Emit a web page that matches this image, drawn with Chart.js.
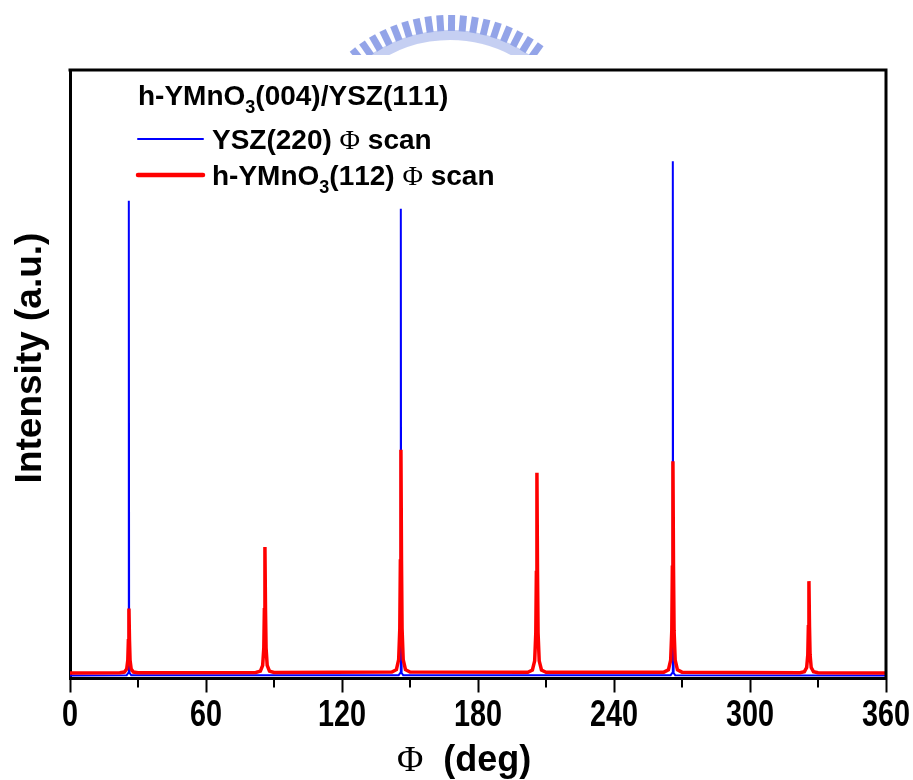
<!DOCTYPE html>
<html>
<head>
<meta charset="utf-8">
<script src="https://cdn.jsdelivr.net/npm/chart.js@4.4.0/dist/chart.umd.min.js"></script>
<style>
    html, body { margin: 0; padding: 0; background: #fff; }
    #wrap { width: 913px; height: 780px; }
</style>
</head>
<body>
<div id="wrap"><canvas id="myChart" width="913" height="780"></canvas></div>
<script>
// YSZ(220) phi scan (blue)
const yszPhi = [0, 25, 25.7, 25.9, 26, 26.1, 26.3, 27,
                145, 145.7, 145.9, 146, 146.1, 146.3, 147,
                265, 265.7, 265.9, 266, 266.1, 266.3, 267, 360];
const yszInt = [0.5, 0.55, 0.9, 3.0, 78.5, 3.0, 0.9, 0.55,
                0.55, 0.9, 3.0, 77.2, 3.0, 0.9, 0.55,
                0.55, 0.9, 3.0, 85.0, 3.0, 0.9, 0.55, 0.5];

// h-YMnO3(112) phi scan (red)
const ymoPhi = [0,
    22, 24, 25, 25.5, 25.75, 26, 26.25, 26.5, 27, 28, 30,
    82, 84, 85, 85.5, 85.75, 86, 86.25, 86.5, 87, 88, 90,
    142, 144, 145, 145.5, 145.75, 146, 146.25, 146.5, 147, 148, 150,
    202, 204, 205, 205.5, 205.75, 206, 206.25, 206.5, 207, 208, 210,
    262, 264, 265, 265.5, 265.75, 266, 266.25, 266.5, 267, 268, 270,
    322, 324, 325, 325.5, 325.75, 326, 326.25, 326.5, 327, 328, 330,
    360];
const ymoInt = [0.9,
    0.94, 1.06, 1.54, 3.0, 6.2, 11.5, 6.2, 3.0, 1.54, 1.06, 0.94,
    0.98, 1.21, 2.14, 5.0, 11.3, 21.6, 11.3, 5.0, 2.14, 1.21, 0.98,
    1.05, 1.45, 3.1, 8.2, 19.3, 37.6, 19.3, 8.2, 3.1, 1.45, 1.05,
    1.03, 1.4, 2.9, 7.5, 17.4, 33.8, 17.4, 7.5, 2.9, 1.4, 1.03,
    1.04, 1.42, 3.0, 7.9, 18.3, 35.7, 18.3, 7.9, 3.0, 1.42, 1.04,
    0.96, 1.13, 1.8, 3.9, 8.5, 16.0, 8.5, 3.9, 1.8, 1.13, 0.96,
    0.9];

const xTicks = [0, 60, 120, 180, 240, 300, 360];
const minorTicks = [30, 90, 150, 210, 270, 330];

const legendTitle = 'h-YMnO₃(004)/YSZ(111)';
const seriesLabels = ['YSZ(220) Φ scan', 'h-YMnO₃(112) Φ scan'];
const xTitle = 'Φ  (deg)';
const yTitle = 'Intensity (a.u.)';

const SANS = '"Liberation Sans", Arial, sans-serif';
const SERIF = '"Liberation Serif", "DejaVu Serif", serif';

// draws text, turning ₃ into a small lowered 3 and Φ into a symbol-like glyph
function drawRich(ctx, text, x, y, size) {
    let cx = x;
    for (const ch of text) {
        let t = ch, dy = 0;
        if (ch === '₃') {
            ctx.font = 'bold ' + Math.round(size * 0.65) + 'px ' + SANS;
            t = '3';
            dy = size * 0.28;
        } else if (ch === 'Φ') {
            ctx.font = size + 'px ' + SERIF;
        } else {
            ctx.font = 'bold ' + size + 'px ' + SANS;
        }
        ctx.fillText(t, cx, y + dy);
        cx += ctx.measureText(t).width;
    }
}

function drawLogo(ctx) {
    ctx.save();
    ctx.beginPath();
    ctx.rect(0, 0, 913, 55);
    ctx.clip();
    const cx = 450, cy = 170, R = 155;
    ctx.fillStyle = 'rgba(128,148,228,0.85)';
    for (let a = -129; a <= -51; a += 4.4) {
        ctx.save();
        ctx.translate(cx, cy);
        ctx.rotate((a + 90) * Math.PI / 180);
        ctx.fillRect(-3.5, -R, 7, 16);
        ctx.restore();
    }
    ctx.beginPath();
    ctx.arc(cx, cy, R - 20, Math.PI * 1.2, Math.PI * 1.8);
    ctx.lineWidth = 10;
    ctx.strokeStyle = 'rgba(150,168,232,0.55)';
    ctx.stroke();
    ctx.restore();
}

const decorations = {
    id: 'decorations',
    beforeDraw(chart) {
        drawLogo(chart.ctx);
    },
    afterDraw(chart) {
        const ctx = chart.ctx;
        const a = chart.chartArea;
        const xs = chart.scales.x;
        ctx.save();
        // top and right frame
        ctx.strokeStyle = '#000';
        ctx.lineWidth = 3;
        ctx.beginPath();
        ctx.moveTo(a.left - 1.5, a.top);
        ctx.lineTo(a.right, a.top);
        ctx.lineTo(a.right, a.bottom + 1.5);
        ctx.stroke();
        // minor ticks
        ctx.lineWidth = 2;
        ctx.beginPath();
        minorTicks.forEach(v => {
            const px = Math.round(xs.getPixelForValue(v));
            ctx.moveTo(px, a.bottom + 1.5);
            ctx.lineTo(px, a.bottom + 9);
        });
        ctx.stroke();

        // x tick labels, condensed bold
        ctx.fillStyle = '#000';
        ctx.textAlign = 'center';
        ctx.textBaseline = 'alphabetic';
        ctx.font = 'bold 36px ' + SANS;
        xTicks.forEach(v => {
            ctx.save();
            ctx.translate(xs.getPixelForValue(v), 726);
            ctx.scale(0.8, 1);
            ctx.fillText(String(v), 0, 0);
            ctx.restore();
        });

        // legend
        ctx.textAlign = 'left';
        drawRich(ctx, legendTitle, 138, 105, 28);
        const rows = [149, 185];
        const lineY = [139, 175];
        chart.data.datasets.forEach((ds, i) => {
            ctx.strokeStyle = ds.borderColor;
            ctx.lineWidth = i === 0 ? 2 : 4.5;
            ctx.lineCap = 'round';
            ctx.beginPath();
            ctx.moveTo(138, lineY[i]);
            ctx.lineTo(203, lineY[i]);
            ctx.stroke();
            ctx.fillStyle = '#000';
            drawRich(ctx, seriesLabels[i], 212, rows[i], 28);
        });

        // axis titles
        drawRich(ctx, xTitle, 397, 771, 36);
        ctx.save();
        ctx.translate(41, 358);
        ctx.rotate(-Math.PI / 2);
        ctx.textAlign = 'center';
        ctx.font = 'bold 37px ' + SANS;
        ctx.fillText(yTitle, 0, 0);
        ctx.restore();
        ctx.restore();
    }
};

const ctx = document.getElementById('myChart').getContext('2d');
const myChart = new Chart(ctx, {
    type: 'line',
    data: {
        datasets: [{
            label: seriesLabels[0],
            data: yszPhi.map((p, i) => ({ x: p, y: yszInt[i] })),
            borderColor: '#0000ff',
            borderWidth: 2,
            pointRadius: 0,
            tension: 0,
            order: 1
        }, {
            label: seriesLabels[1],
            data: ymoPhi.map((p, i) => ({ x: p, y: ymoInt[i] })),
            borderColor: '#ff0000',
            borderWidth: 3.5,
            pointRadius: 0,
            tension: 0,
            order: 0
        }]
    },
    options: {
        responsive: false,
        animation: false,
        devicePixelRatio: 1,
        layout: { padding: { top: 70, right: 27, left: 0, bottom: 0 } },
        plugins: {
            legend: { display: false },
            tooltip: { enabled: false }
        },
        scales: {
            x: {
                type: 'linear',
                min: 0,
                max: 360,
                afterFit: s => { s.height = 101.5; },
                afterBuildTicks: s => { s.ticks = xTicks.map(v => ({ value: v })); },
                ticks: { display: false },
                grid: {
                    display: true,
                    drawOnChartArea: false,
                    tickLength: 14,
                    tickWidth: 2,
                    tickColor: '#000'
                },
                border: { display: true, color: '#000', width: 3 }
            },
            y: {
                min: 0,
                max: 100,
                afterFit: s => { s.width = 70; },
                ticks: { display: false },
                grid: { display: false },
                border: { display: true, color: '#000', width: 3 }
            }
        }
    },
    plugins: [decorations]
});
</script>
</body>
</html>
